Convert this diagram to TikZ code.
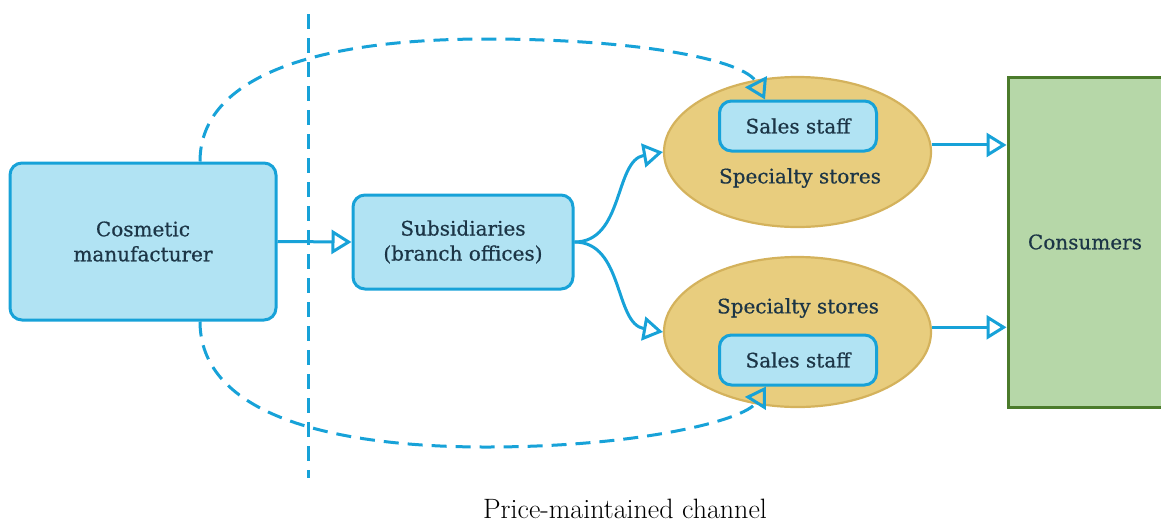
\documentclass[tikz,border=0pt]{standalone}
\usepackage{fontspec}
\newfontfamily\nodefont[FakeBold=0.6]{DejaVu Serif}
\usetikzlibrary{arrows.meta,shapes.geometric,calc}
\definecolor{boxfill}{HTML}{B1E3F3}
\definecolor{boxline}{HTML}{17A2D8}
\definecolor{txt}{HTML}{1C3546}
\definecolor{ellfill}{HTML}{E8CD7E}
\definecolor{ellline}{HTML}{D4B25C}
\definecolor{consfill}{HTML}{B6D7A8}
\definecolor{consline}{HTML}{4B7B2B}
\tikzset{
  bluebox/.style={draw=boxline, fill=boxfill, line width=3pt, rounded corners=12pt,
    text=txt, font=\nodefont\fontsize{20}{25}\selectfont, align=center, inner sep=0pt},
  storeell/.style={draw=ellline, fill=ellfill, line width=2.2pt, ellipse, inner sep=0pt},
  lbl/.style={text=txt, font=\nodefont\fontsize{20}{25}\selectfont, inner sep=0pt},
  flow/.style={draw=boxline, line width=3pt, -{Triangle[open, length=20pt, width=24pt, line width=3pt]}},
  dflow/.style={flow, dash pattern=on 15pt off 9pt},
}
\begin{document}
\begin{tikzpicture}[x=1pt, y=-1pt]
\useasboundingbox (0,0) rectangle (1161,523);
% divider
\coordinate (vtop) at (308,14);
\coordinate (vbot) at (308,478);
\draw[draw=boxline, line width=3pt, dash pattern=on 15pt off 9pt] (vtop) -- (vbot);
% nodes
\node[bluebox, minimum width=266pt, minimum height=157pt] (mfr) at (143,241.5) {Cosmetic\\manufacturer};
\node[bluebox, minimum width=220pt, minimum height=94pt] (sub) at (463,242) {Subsidiaries\\(branch offices)};
\node[storeell, minimum width=267pt, minimum height=150pt] (ue) at (797.5,152) {};
\node[storeell, minimum width=267pt, minimum height=150pt] (le) at (797.5,332) {};
\node[bluebox, minimum width=157pt, minimum height=50pt] (us) at (798,126) {Sales staff};
\node[bluebox, minimum width=157pt, minimum height=50pt] (ls) at (798,360) {Sales staff};
\node[lbl] (ut) at (800,178) {Specialty stores};
\node[lbl] (lt) at (798,308) {Specialty stores};
\node[draw=consline, fill=consfill, line width=3pt, minimum width=162pt, minimum height=330pt,
  inner sep=0pt] (cons) at (1089,242) {};
\node[lbl] (ct) at (1085,242) {Consumers};
\node[font=\fontsize{28}{32}\selectfont, inner sep=0pt, anchor=base] (cap) at (625,518) {Price-maintained channel};
% connectors
\draw[flow] (mfr.east) -- (sub.west);
\draw[flow] (sub.east) to[out=0, in=190] (ue.west);
\draw[flow] (sub.east) to[out=0, in=170] (le.west);
\draw[flow] (ue.3) -- (cons.west |- ue.3);
\draw[flow] (le.2) -- (cons.west |- le.2);
\draw[dflow] ([xshift=57pt]mfr.north) .. controls (200,75) and (320,39) .. (486,39)
   .. controls (640,39) and (745,60) .. ([xshift=-33pt]us.north);
\draw[dflow] ([xshift=57pt]mfr.south) .. controls (200,410) and (320,447) .. (486,447)
   .. controls (640,447) and (745,420) .. ([xshift=-32pt]ls.south);
\end{tikzpicture}
\end{document}
